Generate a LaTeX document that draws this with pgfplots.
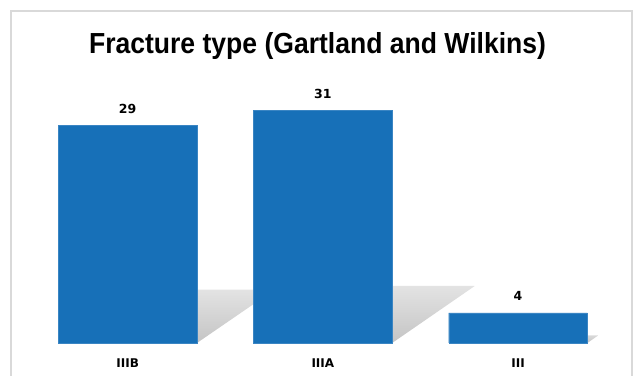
\documentclass[border=0pt]{standalone}
\usepackage{pgfplots}
\pgfplotsset{compat=1.18}
\usepackage{fontspec}
\setmainfont{Liberation Sans}
\newfontfamily\labelfont{DejaVu Sans}
\definecolor{barblue}{HTML}{1770B8}
\definecolor{framegray}{HTML}{D9D9D9}

\begin{document}
\begin{tikzpicture}
\begin{axis}[
  at={(0,0)}, anchor=south west,
  scale only axis,
  width=635bp, height=376bp,
  xmin=-0.654, xmax=2.599,
  ymin=-4.4, ymax=45.73,
  axis line style={draw=none},
  major tick length=0pt,
  ytick=\empty,
  xtick={0,1,2},
  xticklabels={IIIB,IIIA,III},
  xticklabel style={font=\labelfont\bfseries\fontsize{12bp}{14bp}\selectfont,
                    anchor=base, yshift=9bp},
  /pgf/number format/assume math mode=true,
  clip=false,
]
% perspective shadows cast behind each bar
\addplot[draw=none, shading=axis, top color=gray!22, bottom color=gray!46]
  coordinates {(-0.355,0) (0.355,0) (0.752,7.1) (0.042,7.1)} -- cycle;
\addplot[draw=none, shading=axis, top color=gray!22, bottom color=gray!46]
  coordinates {(0.645,0) (1.355,0) (1.778,7.6) (1.068,7.6)} -- cycle;
\addplot[draw=none, shading=axis, top color=gray!30, bottom color=gray!46]
  coordinates {(1.645,0) (2.355,0) (2.410,1.0) (1.700,1.0)} -- cycle;

% bars
\addplot[ybar, bar width=138.7bp, fill=barblue, draw=barblue!85!white,
  nodes near coords,
  nodes near coords style={font=\labelfont\bfseries\fontsize{12.5bp}{14bp}\selectfont,
                           anchor=base, yshift=12bp, text=black}]
  coordinates {(0,29) (1,31) (2,4)};

% chart frame
\draw[framegray, line width=1.5bp]
  (axis description cs:0.0173,-0.05) -- (axis description cs:0.0173,0.9707)
  -- (axis description cs:0.9953,0.9707) -- (axis description cs:0.9953,-0.05);

% title
\node[anchor=base] at (axis description cs:0.5,0.8577)
  {\scalebox{0.915}[1]{\fontsize{29bp}{34bp}\selectfont\bfseries Fracture type (Gartland and Wilkins)}};
\end{axis}
\pgfresetboundingbox
\path[use as bounding box] (0,0) rectangle (635bp,376bp);
\end{tikzpicture}
\end{document}
